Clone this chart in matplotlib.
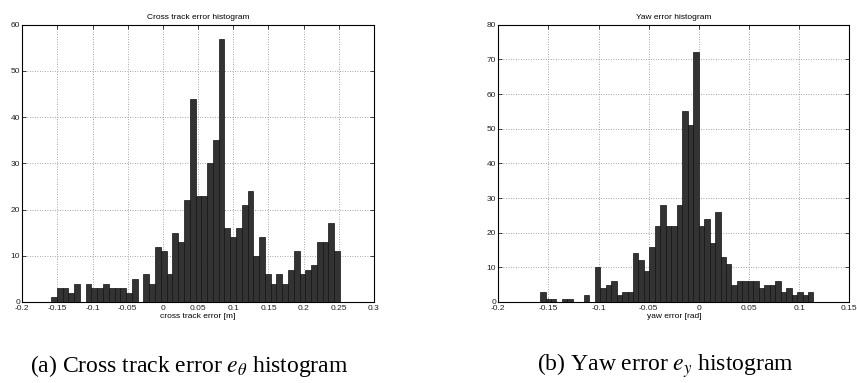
import numpy as np
import matplotlib
matplotlib.use("Agg")
import matplotlib.pyplot as plt

# histogram counts (50 bins each)
cte_counts = [1, 3, 3, 2, 4, 0, 4, 3, 3, 4, 3, 3, 3, 2, 5, 0, 6, 4, 12, 11,
              6, 15, 13, 22, 44, 23, 23, 30, 35, 57, 16, 14, 16, 21, 24, 10, 14, 6, 4, 6,
              4, 7, 11, 6, 7, 8, 13, 13, 17, 11]
cte_range = (-0.1592, 0.2517)

yaw_counts = [3, 1, 1, 0, 1, 1, 0, 0, 2, 0, 10, 4, 5, 6, 2, 3, 3, 14, 12, 9,
              16, 22, 28, 22, 22, 28, 55, 51, 72, 22, 24, 17, 26, 13, 11, 5, 6, 6, 6, 6,
              4, 5, 5, 6, 3, 4, 2, 3, 2, 3]
yaw_range = (-0.1584, 0.1142)

cte_xticks = [-0.2, -0.15, -0.1, -0.05, 0, 0.05, 0.1, 0.15, 0.2, 0.25, 0.3]
cte_xlabels = ["-0.2", "-0.15", "-0.1", "-0.05", "0", "0.05", "0.1", "0.15", "0.2", "0.25", "0.3"]
cte_yticks = [0, 10, 20, 30, 40, 50, 60]

yaw_xticks = [-0.2, -0.15, -0.1, -0.05, 0, 0.05, 0.1, 0.15]
yaw_xlabels = ["-0.2", "-0.15", "-0.1", "-0.05", "0", "0.05", "0.1", "0.15"]
yaw_yticks = [0, 10, 20, 30, 40, 50, 60, 70, 80]

plt.rcParams['font.family'] = ['Liberation Sans', 'DejaVu Sans']
plt.rcParams['mathtext.fontset'] = 'stix'


def histo(ax, counts, rng, xticks, xlabels, yticks, title, xlabel):
    edges = np.linspace(rng[0], rng[1], len(counts) + 1)
    ax.bar(edges[:-1], counts, width=np.diff(edges), align='edge',
           color='#333333', edgecolor='#111111', linewidth=0.5, zorder=3)
    ax.set_xlim(xticks[0], xticks[-1])
    ax.set_ylim(yticks[0], yticks[-1])
    ax.set_xticks(xticks)
    ax.set_xticklabels(xlabels)
    ax.set_yticks(yticks)
    ax.grid(True, linestyle=(0, (1, 2)), color='#888888', linewidth=0.6, zorder=0)
    ax.tick_params(direction='in', top=True, right=True, length=3, width=0.6,
                   labelsize=6, colors='#222222')
    ax.tick_params(axis='x', pad=2)
    ax.tick_params(axis='y', pad=1.5)
    for s in ax.spines.values():
        s.set_linewidth(0.8)
    ax.set_title(title, fontsize=6, pad=4)
    ax.set_xlabel(xlabel, fontsize=6, labelpad=1)


fig = plt.figure(figsize=(8.57, 3.83), dpi=100)
ax1 = fig.add_axes([0.026, 0.2115, 0.4104, 0.724])
ax2 = fig.add_axes([0.5815, 0.2115, 0.4096, 0.724])

histo(ax1, cte_counts, cte_range, cte_xticks, cte_xlabels, cte_yticks,
      "Cross track error histogram", "cross track error [m]")
histo(ax2, yaw_counts, yaw_range, yaw_xticks, yaw_xlabels, yaw_yticks,
      "Yaw error histogram", "yaw error [rad]")

fig.text(0.2205, 0.045, r"(a) Cross track error $e_\theta$ histogram",
         family='Liberation Serif', fontsize=17, ha='center', va='center')
fig.text(0.776, 0.045, r"(b) Yaw error $e_y$ histogram",
         family='Liberation Serif', fontsize=17, ha='center', va='center')

fig.savefig("out.png", dpi=100)
